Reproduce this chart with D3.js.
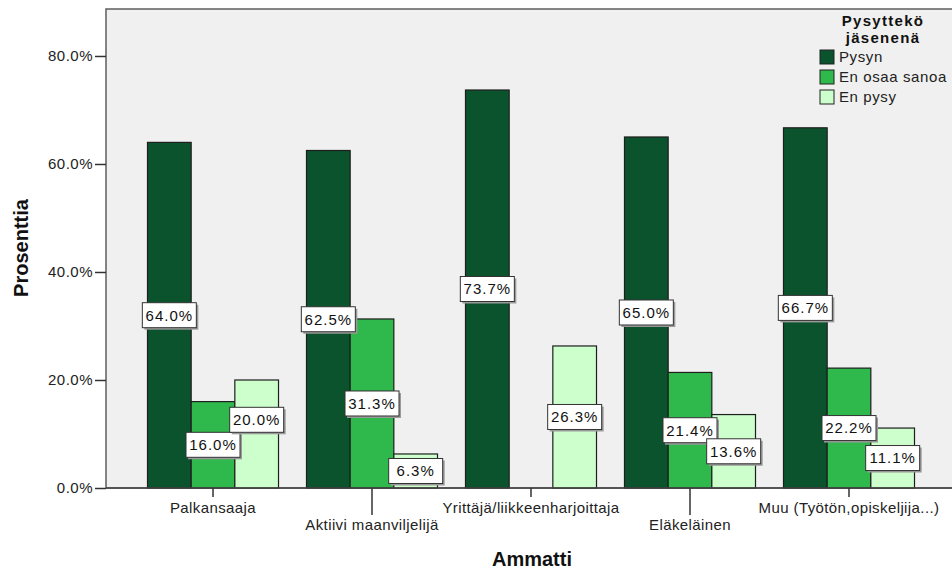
<!doctype html>
<html lang="fi">
<head>
<meta charset="UTF-8">
<title>Ammatti</title>
<style>
  body { margin: 0; background: #fff; }
  svg { display: block; font-family: "Liberation Sans", Arial, sans-serif; }
</style>
</head>
<body>
<div id="chart"></div>
<script src="https://d3js.org/d3.v7.min.js"></script>
<script>
    // data
    const categories = ['Palkansaaja', 'Aktiivi maanviljelijä', 'Yrittäjä/liikkeenharjoittaja', 'Eläkeläinen', 'Muu (Työtön,opiskeljija...)']
    const seriesNames = ['Pysyn', 'En osaa sanoa', 'En pysy']
    const pysyn = [64.0, 62.5, 73.7, 65.0, 66.7]
    const enOsaaSanoa = [16.0, 31.3, 0, 21.4, 22.2]
    const enPysy = [20.0, 6.3, 26.3, 13.6, 11.1]
    const yTicks = [0, 20, 40, 60, 80]
    const colors = ['#0b532c', '#2fb84b', '#ccffcc']

    const series = [pysyn, enOsaaSanoa, enPysy]

    const W = 952, H = 570
    const plot = { left: 106, right: 956, top: 9, bottom: 488 }

    const svg = d3.select('#chart').append('svg')
        .attr('width', W)
        .attr('height', H)

    // plot background
    svg.append('rect')
        .attr('x', plot.left).attr('y', plot.top)
        .attr('width', plot.right - plot.left).attr('height', plot.bottom - plot.top)
        .attr('fill', '#f0f0f0')
        .attr('stroke', '#5e5e5e')
        .attr('stroke-width', 1.5)

    const x = d3.scaleBand()
        .domain(categories)
        .range([plot.left, plot.right])
        .paddingInner(0.176)
        .paddingOuter(0.261)

    const xs = d3.scaleBand()
        .domain(seriesNames)
        .range([0, x.bandwidth()])

    const y = d3.scaleLinear()
        .domain([0, 88.7])
        .range([plot.bottom, plot.top])

    // bars
    const bars = []
    categories.forEach(function(c, i) {
        seriesNames.forEach(function(s, j) {
            bars.push({ cat: c, ser: s, j: j, value: series[j][i] })
        })
    })

    svg.append('g').selectAll('rect')
        .data(bars.filter(d => d.value > 0))
        .enter().append('rect')
        .attr('x', d => x(d.cat) + xs(d.ser))
        .attr('y', d => y(d.value))
        .attr('width', xs.bandwidth())
        .attr('height', d => y(0) - y(d.value))
        .attr('fill', d => colors[d.j])
        .attr('stroke', '#1e1e1e')
        .attr('stroke-width', 1.2)

    // y axis
    const yAxis = svg.append('g')
        .attr('transform', 'translate(' + plot.left + ',0)')
        .call(d3.axisLeft(y).tickValues(yTicks).tickSize(11).tickPadding(2)
            .tickFormat(d => d.toFixed(1) + '%'))
    yAxis.select('.domain').remove()
    yAxis.selectAll('line').attr('stroke', '#333').attr('stroke-width', 1.5)
    yAxis.selectAll('text').attr('font-size', 15).attr('fill', '#222')
        .attr('letter-spacing', 0.5)
        .attr('font-family', '"Liberation Sans", Arial, sans-serif')

    // x axis with staggered labels
    const xAxis = svg.append('g').attr('transform', 'translate(0,' + plot.bottom + ')')
    xAxis.append('line')
        .attr('x1', plot.left).attr('x2', plot.right)
        .attr('stroke', '#444').attr('stroke-width', 1.5)
    const xt = xAxis.selectAll('g.tick')
        .data(categories)
        .enter().append('g')
        .attr('class', 'tick')
        .attr('transform', d => 'translate(' + (x(d) + x.bandwidth() / 2) + ',0)')
    xt.append('line')
        .attr('y2', (d, i) => i % 2 ? 27 : 9)
        .attr('stroke', '#333').attr('stroke-width', 1.5)
    xt.append('text')
        .attr('y', (d, i) => i % 2 ? 42 : 25)
        .attr('text-anchor', 'middle')
        .attr('font-size', 15)
        .attr('letter-spacing', 0.4)
        .attr('fill', '#222')
        .text(d => d)

    // value labels, centred in bar; nudged up when they collide with a neighbour
    const boxW = 54, boxH = 25
    const labels = []
    categories.forEach(function(c, i) {
        let prev = null
        seriesNames.forEach(function(s, j) {
            const v = series[j][i]
            if (!(v > 0)) { return }
            const cx = x(c) + xs(s) + xs.bandwidth() / 2
            let cy = (y(v) + y(0)) / 2
            cy = Math.min(cy, plot.bottom - boxH / 2 - 1)
            if (prev && Math.abs(prev.cx - cx) < boxW && (boxH - Math.abs(prev.cy - cy)) > 8 && cy < prev.cy) {
                cy = prev.cy - boxH
            }
            const lab = { cx: cx, cy: cy, text: v.toFixed(1) + '%' }
            labels.push(lab)
            prev = lab
        })
    })

    const lg = svg.append('g').selectAll('g')
        .data(labels)
        .enter().append('g')
        .attr('transform', d => 'translate(' + d.cx + ',' + d.cy + ')')
    lg.append('rect')
        .attr('x', -boxW / 2 + 2).attr('y', -boxH / 2 + 2)
        .attr('width', boxW).attr('height', boxH)
        .attr('fill', '#9a9a9a')
    lg.append('rect')
        .attr('x', -boxW / 2).attr('y', -boxH / 2)
        .attr('width', boxW).attr('height', boxH)
        .attr('fill', '#fff')
        .attr('stroke', '#333')
        .attr('stroke-width', 1)
    lg.append('text')
        .attr('text-anchor', 'middle')
        .attr('dy', '0.36em')
        .attr('font-size', 15)
        .attr('letter-spacing', 1)
        .attr('fill', '#111')
        .text(d => d.text)

    // axis titles
    svg.append('text')
        .attr('transform', 'translate(28,248) rotate(-90)')
        .attr('text-anchor', 'middle')
        .attr('font-size', 20)
        .attr('font-weight', 'bold')
        .attr('fill', '#111')
        .text('Prosenttia')
    svg.append('text')
        .attr('x', 532).attr('y', 566)
        .attr('text-anchor', 'middle')
        .attr('font-size', 20)
        .attr('font-weight', 'bold')
        .attr('fill', '#111')
        .text('Ammatti')

    // legend
    const legend = svg.append('g')
    legend.append('text')
        .attr('x', 883).attr('y', 26)
        .attr('text-anchor', 'middle')
        .attr('font-size', 15).attr('font-weight', 'bold').attr('fill', '#111')
        .attr('letter-spacing', 1.3)
        .text('Pysyttekö')
    legend.append('text')
        .attr('x', 883).attr('y', 43)
        .attr('text-anchor', 'middle')
        .attr('font-size', 15).attr('font-weight', 'bold').attr('fill', '#111')
        .attr('letter-spacing', 1.3)
        .text('jäsenenä')
    const li = legend.selectAll('g.item')
        .data(seriesNames)
        .enter().append('g')
        .attr('class', 'item')
        .attr('transform', (d, i) => 'translate(820,' + (50 + i * 20) + ')')
    li.append('rect')
        .attr('width', 14).attr('height', 14)
        .attr('fill', (d, i) => colors[i])
        .attr('stroke', '#222').attr('stroke-width', 1)
    li.append('text')
        .attr('x', 19).attr('y', 7).attr('dy', '0.36em')
        .attr('font-size', 15).attr('fill', '#222')
        .attr('letter-spacing', 0.6)
        .text(d => d)
</script>
</body>
</html>
